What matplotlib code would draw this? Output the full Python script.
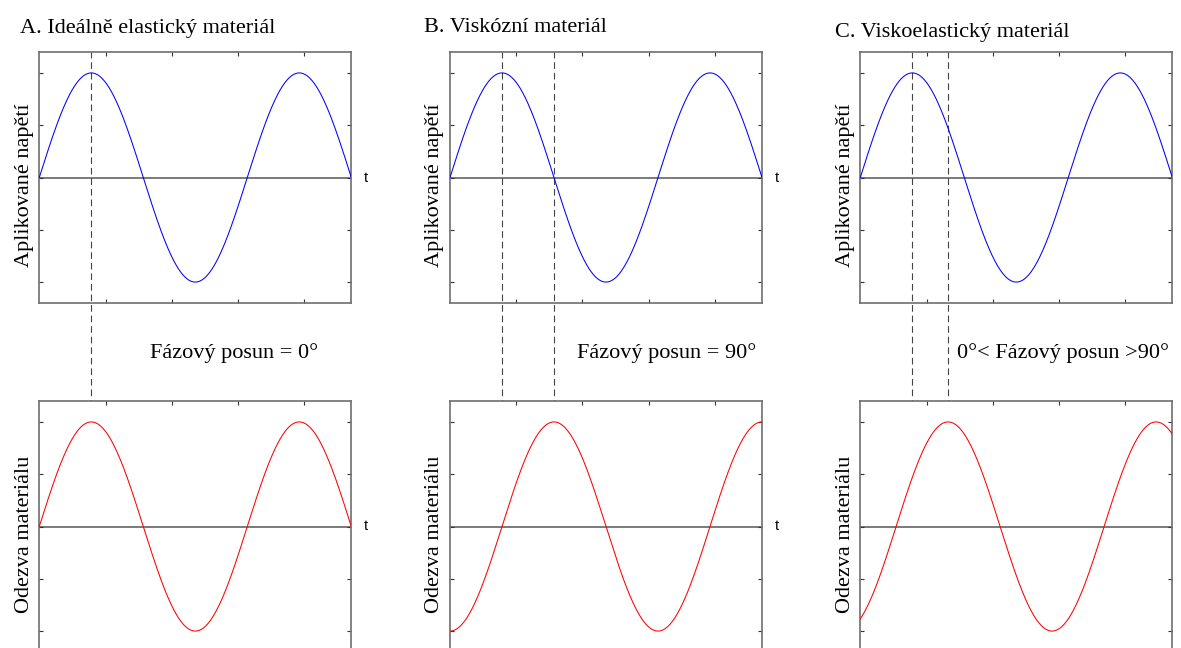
import numpy as np
import matplotlib
matplotlib.use("Agg")
import matplotlib.pyplot as plt

# ---- data ----
panel_titles = ["A. Ideálně elastický materiál", "B. Viskózní materiál", "C. Viskoelastický materiál"]
phase_labels = ["Fázový posun = 0°", "Fázový posun = 90°", "0°< Fázový posun >90°"]
phase_deg = [0, 90, 62]          # phase lag of the response (degrees)
top_ylabel = "Aplikované napětí"
bottom_ylabel = "Odezva materiálu"
amplitude = 1.0
n_periods = 1.5
x_ticks = [2, 4, 6, 8]
y_ticks = [-1, -0.5, 0, 0.5, 1]

W, H = 1181, 648
fig = plt.figure(figsize=(W / 100, H / 100), dpi=100)

serif = ["Liberation Serif", "DejaVu Serif"]
sans = ["Liberation Sans", "DejaVu Sans"]
frame_col = "#6e6e6e"

lefts_px = [39.3, 450.0, 860.3]
width_px = 312.0
top_axes_px = (52, 303)
bot_axes_px = (401, 652)

t_end = 2 * np.pi * n_periods
t = np.linspace(0, t_end, 600)

def px_rect(left, top, bottom):
    return [left / W, (H - bottom) / H, width_px / W, (bottom - top) / H]

def style(ax):
    ax.set_xlim(0, t_end)
    ax.set_ylim(-1.2, 1.2)
    ax.set_xticks(x_ticks)
    ax.set_yticks(y_ticks)
    ax.set_xticklabels([])
    ax.set_yticklabels([])
    ax.tick_params(direction="in", length=3, width=0.8, color="#333333",
                   top=True, right=True, bottom=True, left=True)
    for s in ax.spines.values():
        s.set_color(frame_col)
        s.set_linewidth(1.2)
    ax.axhline(0, color="#707070", lw=1.3, zorder=1)

title_pos = [(20, 29), (424, 28), (835, 32)]
phase_pos = [(150, 353), (577, 353), (957, 353)]

for i in range(3):
    delta = np.deg2rad(phase_deg[i])
    ax_t = fig.add_axes(px_rect(lefts_px[i], *top_axes_px))
    ax_b = fig.add_axes(px_rect(lefts_px[i], *bot_axes_px))
    for ax in (ax_t, ax_b):
        style(ax)
    ax_t.plot(t, amplitude * np.sin(t), color="#0000ff", lw=0.75, zorder=3)
    ax_b.plot(t, amplitude * np.sin(t - delta), color="#ff0000", lw=0.75, zorder=3)

    for ax, lab in ((ax_t, top_ylabel), (ax_b, bottom_ylabel)):
        ax.set_ylabel(lab, family=serif, fontsize=16, labelpad=0.5)
        ax.yaxis.label.set_y(0.468)

    # dashed reference lines through both panels
    xs = [np.pi / 2]
    if phase_deg[i] != 0:
        xs.append(np.pi / 2 + delta)
    for xv in xs:
        ax_t.axvline(xv, ymin=-1.45, ymax=1, clip_on=False, color="#444444",
                     lw=0.8, linestyle=(0, (6, 3.5)), zorder=2)

    if i < 2:
        ax_t.text(1.04, 0.5, "t", transform=ax_t.transAxes, ha="left", va="center",
                  family=sans, fontsize=10.5)
        ax_b.text(1.04, 0.5, "t", transform=ax_b.transAxes, ha="left", va="center",
                  family=sans, fontsize=10.5)

    fig.text(title_pos[i][0] / W, 1 - title_pos[i][1] / H, panel_titles[i],
             family=serif, fontsize=16, ha="left", va="center")
    fig.text(phase_pos[i][0] / W, 1 - phase_pos[i][1] / H, phase_labels[i],
             family=serif, fontsize=16, ha="left", va="center")

fig.savefig("out.png", dpi=100)
